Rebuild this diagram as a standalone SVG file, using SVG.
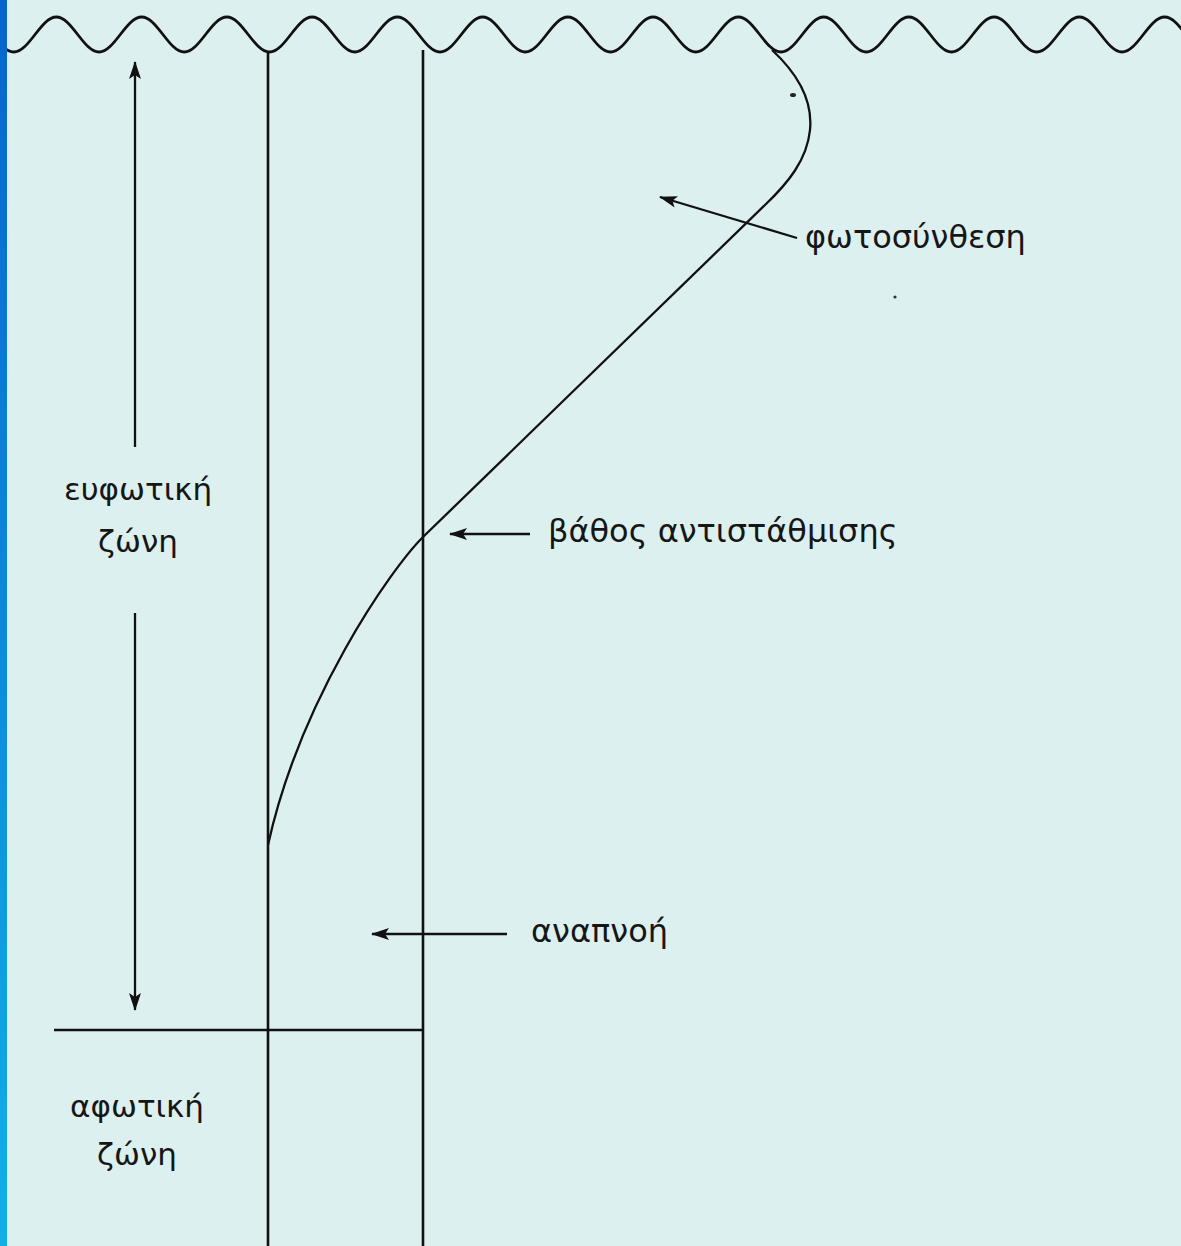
<svg xmlns="http://www.w3.org/2000/svg" width="1181" height="1246" viewBox="0 0 1181 1246">
<defs>
<linearGradient id="bar" x1="0" y1="0" x2="0" y2="1">
<stop offset="0" stop-color="#0664cc"/>
<stop offset="1" stop-color="#12b0e6"/>
</linearGradient>
<marker id="ah" viewBox="0 0 18 12" refX="17" refY="6" markerWidth="18" markerHeight="12" orient="auto" markerUnits="userSpaceOnUse">
<path d="M0,0 L18,6 L0,12 L4,6 z" fill="#111"/>
</marker>
<style>
.ln{stroke:#111;stroke-width:2.6;fill:none}
.wv{stroke:#111;stroke-width:2.8;fill:none}
.cv{stroke:#111;stroke-width:2.3;fill:none}
.ar{stroke:#111;stroke-width:2.3;fill:none;marker-end:url(#ah)}
.lb{font-family:"DejaVu Sans","Noto Sans",sans-serif;font-size:32px;fill:#161616}
.lz{font-family:"DejaVu Sans","Noto Sans",sans-serif;font-size:31px;fill:#161616}
</style>
</defs>
<rect width="1181" height="1246" fill="#dcf0ef"/>

<g id="water-surface">
<path class="wv" d="M -28.875 17 c 15.52 0 27.1 35 42.625 35 s 27.1 -35 42.625 -35 s 27.1 35 42.625 35 s 27.1 -35 42.625 -35 s 27.1 35 42.625 35 s 27.1 -35 42.625 -35 s 27.1 35 42.625 35 s 27.1 -35 42.625 -35 s 27.1 35 42.625 35 s 27.1 -35 42.625 -35 s 27.1 35 42.625 35 s 27.1 -35 42.625 -35 s 27.1 35 42.625 35 s 27.1 -35 42.625 -35 s 27.1 35 42.625 35 s 27.1 -35 42.625 -35 s 27.1 35 42.625 35 s 27.1 -35 42.625 -35 s 27.1 35 42.625 35 s 27.1 -35 42.625 -35 s 27.1 35 42.625 35 s 27.1 -35 42.625 -35 s 27.1 35 42.625 35 s 27.1 -35 42.625 -35 s 27.1 35 42.625 35 s 27.1 -35 42.625 -35 s 27.1 35 42.625 35 s 27.1 -35 42.625 -35 s 27.1 35 42.625 35 s 27.1 -35 42.625 -35"/>
</g>

<g id="respiration-column">
<line class="ln" x1="268" y1="52" x2="268" y2="1246"/>
<line class="ln" x1="423" y1="50" x2="423" y2="1246"/>
</g>

<g id="zone-boundary">
<line class="ln" x1="54" y1="1030" x2="423" y2="1030"/>
</g>

<g id="photosynthesis-curve">
<path class="cv" d="M 772 50 C 798 74, 813 100, 810 130 C 807 160, 788 183, 765 205 L 423 537 C 390 570, 300 700, 268 845"/>
<ellipse cx="793" cy="95" rx="3" ry="2" fill="#222"/>
<circle cx="895" cy="297" r="1.6" fill="#333"/>
</g>

<g id="label-euphotic">
<text class="lz" x="138" y="500" text-anchor="middle">ευφωτική</text>
<text class="lz" x="138" y="552" text-anchor="middle">ζώνη</text>
</g>

<g id="label-aphotic">
<text class="lz" x="137" y="1117" text-anchor="middle">αφωτική</text>
<text class="lz" x="137" y="1165" text-anchor="middle">ζώνη</text>
</g>

<g id="label-photosynthesis">
<text class="lb" x="805" y="248">φωτοσύνθεση</text>
</g>

<g id="label-compensation">
<text class="lb" x="548" y="542">βάθος αντιστάθμισης</text>
</g>

<g id="label-respiration">
<text class="lb" x="531" y="942">αναπνοή</text>
</g>

<g id="connectors">
<line class="ar" x1="135" y1="447" x2="135" y2="62"/>
<line class="ar" x1="135" y1="613" x2="135" y2="1010"/>
<line class="ar" x1="797" y1="238" x2="660" y2="197"/>
<line class="ar" x1="530" y1="534" x2="450" y2="534"/>
<line class="ar" x1="507" y1="934" x2="372" y2="934"/>
</g>

<rect id="left-bar" x="0" y="0" width="7" height="1246" fill="url(#bar)"/>
</svg>
